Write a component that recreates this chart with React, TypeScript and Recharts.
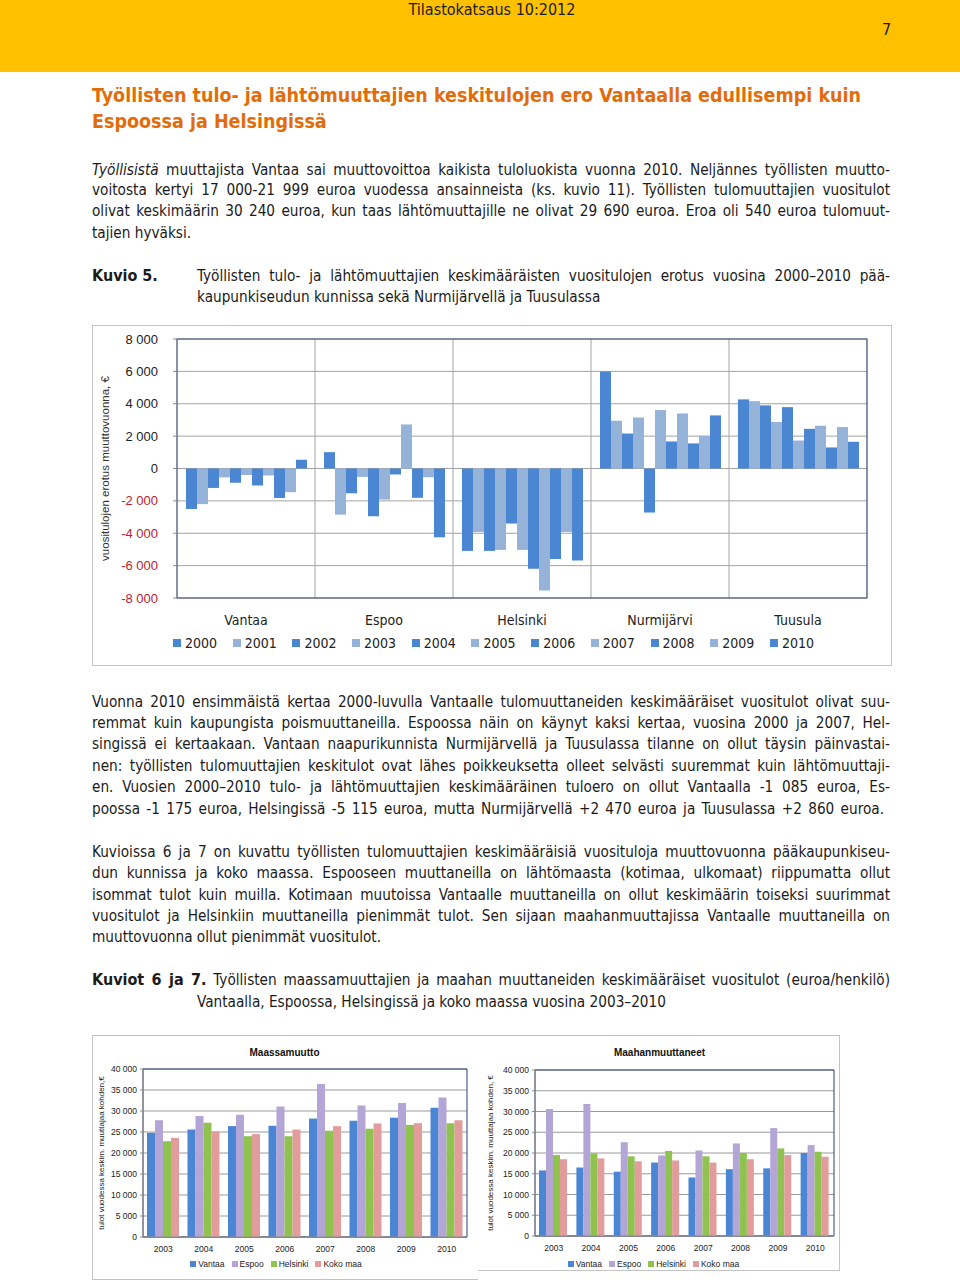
import React from 'react';
import { BarChart, Bar, XAxis, YAxis, CartesianGrid, Legend, ReferenceArea } from 'recharts';

const NARROW = '"DejaVu Sans Condensed", "Liberation Sans Narrow", "Arial Narrow", sans-serif';
const SANS = '"Liberation Sans", Arial, sans-serif';

// ---------- Kuvio 5 data ----------
const municipalities = ['Vantaa', 'Espoo', 'Helsinki', 'Nurmijärvi', 'Tuusula'];
const diffYears = ['2000', '2001', '2002', '2003', '2004', '2005', '2006', '2007', '2008', '2009', '2010'];
const vantaaDiff = [-2500, -2200, -1200, -550, -880, -400, -1050, -430, -1820, -1460, 540];
const espooDiff = [1010, -2850, -1530, -520, -2950, -1920, -370, 2720, -1810, -540, -4250];
const helsinkiDiff = [-5090, -3920, -5090, -5030, -3400, -5030, -6200, -7530, -5590, -3920, -5690];
const nurmijarviDiff = [6000, 2950, 2160, 3150, -2720, 3610, 1670, 3400, 1550, 2020, 3280];
const tuusulaDiff = [4270, 4160, 3900, 2870, 3790, 1730, 2450, 2640, 1300, 2560, 1650];
const diffTicks = [-8000, -6000, -4000, -2000, 0, 2000, 4000, 6000, 8000];

// ---------- Kuviot 6 ja 7 data ----------
const incomeYears = ['2003', '2004', '2005', '2006', '2007', '2008', '2009', '2010'];
const incomeSeriesNames = ['Vantaa', 'Espoo', 'Helsinki', 'Koko maa'];
const domVantaa = [24800, 25600, 26400, 26500, 28200, 27700, 28400, 30800];
const domEspoo = [27800, 28800, 29100, 31100, 36400, 31300, 31900, 33200];
const domHelsinki = [22800, 27200, 24000, 24000, 25300, 25800, 26700, 27100];
const domKokoMaa = [23600, 25100, 24500, 25600, 26400, 27000, 27100, 27800];
const immVantaa = [15800, 16500, 15500, 17700, 14100, 16100, 16300, 20000];
const immEspoo = [30600, 31800, 22600, 19400, 20600, 22300, 26000, 21900];
const immHelsinki = [19500, 19900, 19200, 20500, 19200, 20000, 21100, 20300];
const immKokoMaa = [18500, 18700, 18000, 18200, 17700, 18500, 19500, 19100];
const incomeTicks = [0, 5000, 10000, 15000, 20000, 25000, 30000, 35000, 40000];

const diffColors = ['#4A86D2', '#95B3D9'];
const incomeColors = ['#4A86D4', '#B3A5D5', '#8FC24F', '#E39C9C'];

const fmt = (n: number) =>
  (n < 0 ? '-' : '') + String(Math.abs(n)).replace(/\B(?=(\d{3})+(?!\d))/g, ' ');

const diffSeries = [vantaaDiff, espooDiff, helsinkiDiff, nurmijarviDiff, tuusulaDiff];
const diffData = municipalities.map((m, i) => {
  const row: any = { name: m };
  diffYears.forEach((y, j) => {
    row['y' + y] = diffSeries[i][j];
  });
  return row;
});

const buildIncome = (series: number[][]) =>
  incomeYears.map((y, i) => {
    const row: any = { year: y };
    incomeSeriesNames.forEach((s, j) => {
      row[s] = series[j][i];
    });
    return row;
  });
const domData = buildIncome([domVantaa, domEspoo, domHelsinki, domKokoMaa]);
const immData = buildIncome([immVantaa, immEspoo, immHelsinki, immKokoMaa]);

// ---------- text helpers ----------
const TEXT_COLOR = '#1b1b1b';
const BODY_SIZE = 15.2;

const TLine = ({ top, left = 92, right = 890, justify = true, children, size = BODY_SIZE, bold = false }: any) => (
  <div
    style={{
      position: 'absolute',
      top: top - 11,
      left,
      width: right - left,
      height: 22,
      lineHeight: '22px',
      fontFamily: NARROW,
      fontSize: size,
      fontWeight: bold ? 'bold' : 'normal',
      color: TEXT_COLOR,
      textAlign: justify ? 'justify' : 'left',
      textAlignLast: justify ? 'justify' : 'left',
      overflow: 'visible',
    }}
  >
    {children}
  </div>
);

const DiffTick = (props: any) => {
  const { x, y, payload } = props;
  const v = payload.value;
  return (
    <text x={x} y={y} dy={4.5} textAnchor="end" fontFamily={SANS} fontSize={13} fill={v < 0 ? '#C0202C' : '#222'}>
      {fmt(v)}
    </text>
  );
};

const orderPayload = (payload: any[], names: string[]) =>
  names.map((n) => (payload || []).find((p: any) => p.value === n)).filter(Boolean);

const DiffLegend = (props: any) => {
  const items = orderPayload(props.payload, diffYears);
  return (
    <div style={{ display: 'flex', paddingLeft: 81, height: 20, alignItems: 'center' }}>
      {items.map((p: any) => (
        <div key={p.value} style={{ width: 59.7, display: 'flex', alignItems: 'center', fontFamily: NARROW, fontSize: 14, color: '#222' }}>
          <span style={{ display: 'inline-block', width: 8, height: 8, background: p.color, marginRight: 4 }} />
          {p.value}
        </div>
      ))}
    </div>
  );
};

const IncomeLegend = (props: any) => {
  const items = orderPayload(props.payload, incomeSeriesNames);
  return (
    <div style={{ display: 'flex', justifyContent: 'center', height: 14, alignItems: 'center' }}>
      {items.map((p: any) => (
        <div key={p.value} style={{ display: 'flex', alignItems: 'center', fontFamily: SANS, fontSize: 8.5, color: '#222', marginRight: 7 }}>
          <span style={{ display: 'inline-block', width: 6, height: 6, background: p.color, marginRight: 2 }} />
          {p.value}
        </div>
      ))}
    </div>
  );
};

const IncomeChart = ({ data, title, yLabel, left, top, width, height, labelX, yAxisWidth, marginRight, marginTop, xAxisHeight }: any) => (
  <div style={{ position: 'absolute', left, top, width, height }}>
    <div
      style={{
        position: 'absolute',
        top: 12,
        left: 0,
        width,
        textAlign: 'center',
        fontFamily: SANS,
        fontWeight: 'bold',
        fontSize: 10,
        color: '#111',
      }}
    >
      {title}
    </div>
    <BarChart
      width={width}
      height={height}
      data={data}
      margin={{ top: marginTop, right: marginRight, bottom: 9, left: 0 }}
      barGap={0}
      barCategoryGap={4}
    >
      <CartesianGrid vertical={false} stroke="#9A9A9A" />
      <XAxis
        dataKey="year"
        height={xAxisHeight}
        tickLine={false}
        tickSize={4}
        tickMargin={5}
        axisLine={{ stroke: '#8C8C8C' }}
        tick={{ fontFamily: SANS, fontSize: 8.5, fill: '#222' }}
        interval={0}
      />
      <YAxis
        domain={[0, 40000]}
        ticks={incomeTicks}
        width={yAxisWidth}
        tickSize={3}
        tickMargin={3}
        axisLine={{ stroke: '#8C8C8C' }}
        tickLine={{ stroke: '#8C8C8C' }}
        tickFormatter={fmt}
        tick={{ fontFamily: SANS, fontSize: 8.5, fill: '#222' }}
        interval={0}
        label={(p: any) => {
          const vb = p.viewBox;
          const cx = vb.x + labelX;
          const cy = vb.y + vb.height / 2;
          return (
            <text x={cx} y={cy} transform={`rotate(-90 ${cx} ${cy})`} textAnchor="middle" dominantBaseline="central" fontFamily={SANS} fontSize={8} fill="#222">
              {yLabel}
            </text>
          );
        }}
      />
      <ReferenceArea y1={0} y2={40000} fill="none" stroke="#2E4170" strokeWidth={1} ifOverflow="visible" />
      <Legend content={<IncomeLegend />} wrapperStyle={{ height: 14 }} />
      {incomeSeriesNames.map((s, i) => (
        <Bar key={s} dataKey={s} fill={incomeColors[i]} isAnimationActive={false} />
      ))}
    </BarChart>
  </div>
);

export default function App() {
  return (
    <div
      style={{
        position: 'absolute',
        top: 0,
        left: 0,
        width: 960,
        height: 1282,
        background: '#fff',
        overflow: 'hidden',
        fontFamily: NARROW,
      }}
    >
      {/* header band */}
      <div style={{ position: 'absolute', left: 0, top: 0, width: 960, height: 72, background: '#FFC000' }} />
      <div style={{ position: 'absolute', top: 0, left: 0, width: 984, textAlign: 'center', fontFamily: NARROW, fontSize: 16, lineHeight: '20px', color: '#1b1b1b' }}>
        Tilastokatsaus 10:2012
      </div>
      <div style={{ position: 'absolute', top: 19, left: 882, fontFamily: NARROW, fontSize: 16, lineHeight: '22px', color: '#1b1b1b' }}>7</div>

      {/* title */}
      {[
        ['Työllisten tulo- ja lähtömuuttajien keskitulojen ero Vantaalla edullisempi kuin', 96],
        ['Espoossa ja Helsingissä', 122],
      ].map(([t, y]: any) => (
        <div key={t} style={{ position: 'absolute', top: y - 13, left: 92, lineHeight: '26px', fontFamily: NARROW, fontWeight: 'bold', fontSize: 19.5, color: '#E36C0A', whiteSpace: 'nowrap' }}>
          {t}
        </div>
      ))}

      {/* paragraph 1 */}
      <TLine top={170}>
        <i>Työllisistä</i> muuttajista Vantaa sai muuttovoittoa kaikista tuloluokista vuonna 2010. Neljännes työllisten muutto-
      </TLine>
      <TLine top={190}>voitosta kertyi 17 000-21 999 euroa vuodessa ansainneista (ks. kuvio 11). Työllisten tulomuuttajien vuositulot</TLine>
      <TLine top={211}>olivat keskimäärin 30 240 euroa, kun taas lähtömuuttajille ne olivat 29 690 euroa. Eroa oli 540 euroa tulomuut-</TLine>
      <TLine top={233} justify={false}>tajien hyväksi.</TLine>

      {/* Kuvio 5 caption */}
      <TLine top={276} right={170} justify={false} bold size={16}>Kuvio 5.</TLine>
      <TLine top={276} left={197}>Työllisten tulo- ja lähtömuuttajien keskimääräisten vuositulojen erotus vuosina 2000–2010 pää-</TLine>
      <TLine top={297} left={197} justify={false}>kaupunkiseudun kunnissa sekä Nurmijärvellä ja Tuusulassa</TLine>

      {/* Kuvio 5 chart */}
      <div style={{ position: 'absolute', left: 92, top: 325, width: 800, height: 341, border: '1px solid #C4C4C4', boxSizing: 'border-box' }} />
      <div style={{ position: 'absolute', left: 92, top: 325, width: 800, height: 341 }}>
        <BarChart
          width={800}
          height={341}
          data={diffData}
          margin={{ top: 14, right: 25, bottom: 13, left: 0 }}
          barGap={0}
          barCategoryGap={9}
        >
          <CartesianGrid
            stroke="#A3A3A3"
            verticalCoordinatesGenerator={(p: any) => {
              const o = p.offset;
              return [1, 2, 3, 4].map((i) => o.left + (i * o.width) / municipalities.length);
            }}
          />
          <XAxis
            dataKey="name"
            height={35}
            tickLine={false}
            axisLine={false}
            tickMargin={11}
            interval={0}
            tick={{ fontFamily: NARROW, fontSize: 14, fill: '#222' }}
          />
          <YAxis
            domain={[-8000, 8000]}
            ticks={diffTicks}
            width={85}
            interval={0}
            tickSize={4}
            tickMargin={15}
            axisLine={false}
            tickLine={{ stroke: '#8C8C8C' }}
            tick={<DiffTick />}
            label={(p: any) => {
              const vb = p.viewBox;
              const cx = vb.x + 13;
              const cy = vb.y + vb.height / 2;
              return (
                <text x={cx} y={cy} transform={`rotate(-90 ${cx} ${cy})`} textAnchor="middle" dominantBaseline="central" fontFamily={SANS} fontSize={11.5} fill="#333">
                  vuositulojen erotus muuttovuonna, €
                </text>
              );
            }}
          />
          <ReferenceArea y1={-8000} y2={8000} fill="none" stroke="#3A4A70" strokeWidth={1.2} ifOverflow="visible" />
          <Legend content={<DiffLegend />} wrapperStyle={{ height: 20 }} />
          {diffYears.map((y, i) => (
            <Bar key={y} dataKey={'y' + y} name={y} fill={diffColors[i % 2]} isAnimationActive={false} />
          ))}
        </BarChart>
      </div>

      {/* paragraph 2 */}
      <TLine top={702}>Vuonna 2010 ensimmäistä kertaa 2000-luvulla Vantaalle tulomuuttaneiden keskimääräiset vuositulot olivat suu-</TLine>
      <TLine top={723}>remmat kuin kaupungista poismuuttaneilla. Espoossa näin on käynyt kaksi kertaa, vuosina 2000 ja 2007, Hel-</TLine>
      <TLine top={744}>singissä ei kertaakaan. Vantaan naapurikunnista Nurmijärvellä ja Tuusulassa tilanne on ollut täysin päinvastai-</TLine>
      <TLine top={766}>nen: työllisten tulomuuttajien keskitulot ovat lähes poikkeuksetta olleet selvästi suuremmat kuin lähtömuuttaji-</TLine>
      <TLine top={787}>en. Vuosien 2000–2010 tulo- ja lähtömuuttajien keskimääräinen tuloero on ollut Vantaalla -1 085 euroa, Es-</TLine>
      <TLine top={809} right={884}>poossa -1 175 euroa, Helsingissä -5 115 euroa, mutta Nurmijärvellä +2 470 euroa ja Tuusulassa +2 860 euroa.</TLine>

      {/* paragraph 3 */}
      <TLine top={852}>Kuvioissa 6 ja 7 on kuvattu työllisten tulomuuttajien keskimääräisiä vuosituloja muuttovuonna pääkaupunkiseu-</TLine>
      <TLine top={873}>dun kunnissa ja koko maassa. Espooseen muuttaneilla on lähtömaasta (kotimaa, ulkomaat) riippumatta ollut</TLine>
      <TLine top={895}>isommat tulot kuin muilla. Kotimaan muutoissa Vantaalle muuttaneilla on ollut keskimäärin toiseksi suurimmat</TLine>
      <TLine top={916}>vuositulot ja Helsinkiin muuttaneilla pienimmät tulot. Sen sijaan maahanmuuttajissa Vantaalle muuttaneilla on</TLine>
      <TLine top={937} justify={false}>muuttovuonna ollut pienimmät vuositulot.</TLine>

      {/* Kuviot 6 ja 7 caption */}
      <TLine top={980}>
        <b style={{ fontSize: 16 }}>Kuviot 6 ja 7.</b> Työllisten maassamuuttajien ja maahan muuttaneiden keskimääräiset vuositulot (euroa/henkilö)
      </TLine>
      <TLine top={1002} left={197} justify={false}>Vantaalla, Espoossa, Helsingissä ja koko maassa vuosina 2003–2010</TLine>

      {/* bottom chart frames */}
      <div style={{ position: 'absolute', left: 92, top: 1035, width: 386, height: 245, border: '1px solid #C4C4C4', borderRight: 'none', boxSizing: 'border-box' }} />
      <div style={{ position: 'absolute', left: 478, top: 1035, width: 362, height: 236, border: '1px solid #C4C4C4', borderLeft: 'none', boxSizing: 'border-box' }} />

      <IncomeChart
        data={domData}
        title="Maassamuutto"
        yLabel="tulot vuodessa keskim. muuttajaa kohden,€"
        left={92}
        top={1035}
        width={385}
        height={245}
        labelX={9}
        yAxisWidth={51}
        marginRight={10}
        marginTop={34}
        xAxisHeight={20}
      />
      <IncomeChart
        data={immData}
        title="Maahanmuuttaneet"
        yLabel="tulot vuodessa keskim. muuttajaa kohden, €"
        left={480}
        top={1035}
        width={359}
        height={245}
        labelX={10}
        yAxisWidth={55}
        marginRight={5}
        marginTop={35}
        xAxisHeight={21}
      />
    </div>
  );
}
